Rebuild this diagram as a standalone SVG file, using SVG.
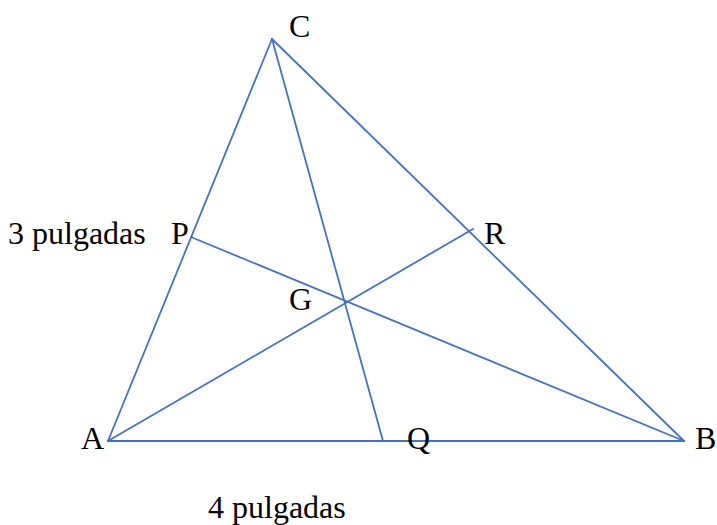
<svg xmlns="http://www.w3.org/2000/svg" width="717" height="525" viewBox="0 0 717 525">
<style>
.ln{stroke:#4472C4;stroke-width:1.8;fill:none;stroke-linecap:round}
.t{font-family:"Liberation Serif","Times New Roman",serif;font-size:32px;fill:#000}
</style>
<rect width="717" height="525" fill="#fff"/>
<g id="connectors">
<line class="ln" x1="108" y1="441" x2="684" y2="441"/>
<line class="ln" x1="108" y1="441" x2="272" y2="39"/>
<line class="ln" x1="272" y1="39" x2="684" y2="441"/>
<line class="ln" x1="272" y1="39" x2="383" y2="441"/>
<line class="ln" x1="191" y1="237" x2="684" y2="441"/>
<line class="ln" x1="108" y1="441" x2="473" y2="229"/>
</g>
<g id="C"><text class="t" x="289" y="37">C</text></g>
<g id="A"><text class="t" x="81" y="449">A</text></g>
<g id="B"><text class="t" x="695" y="449">B</text></g>
<g id="P"><text class="t" x="171" y="244">P</text></g>
<g id="R"><text class="t" x="484" y="244">R</text></g>
<g id="G"><text class="t" x="289" y="310">G</text></g>
<g id="Q"><text class="t" x="407" y="449">Q</text></g>
<g id="label3"><text class="t" x="8" y="244">3 pulgadas</text></g>
<g id="label4"><text class="t" x="208" y="518">4 pulgadas</text></g>
</svg>
